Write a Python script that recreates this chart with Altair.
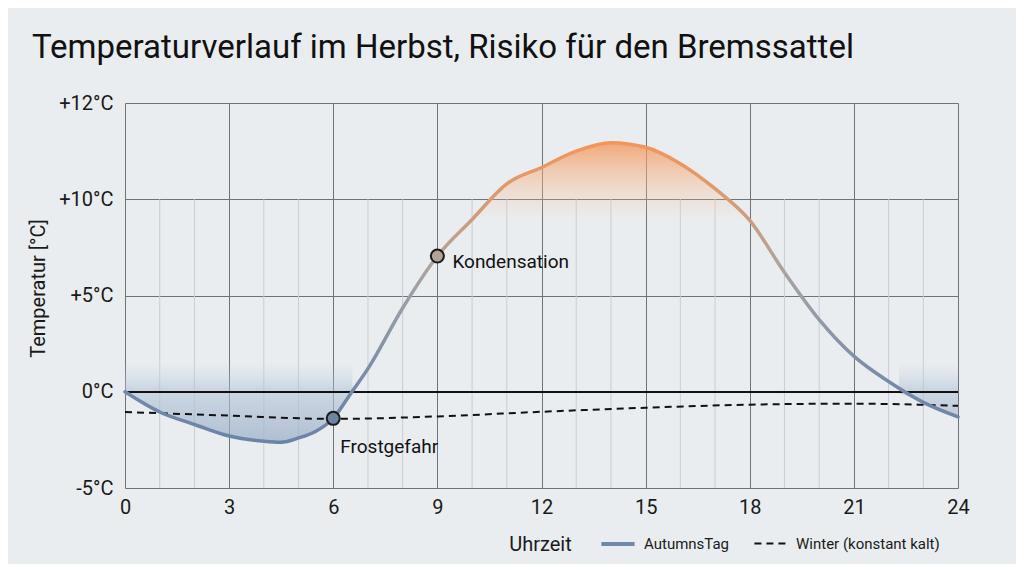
import altair as alt
import pandas as pd

# ---- data ----
hours = [0, 1, 2, 3, 4, 4.5, 5, 5.5, 6, 6.5, 7, 8, 9, 10, 11, 12, 13, 14, 15, 16, 17, 18, 19, 20, 21, 22, 23, 24]
autumn_temp = [0, -1.05, -1.7, -2.3, -2.57, -2.62, -2.4, -2.05, -1.38, -0.1, 1.2, 4.35, 7.05, 8.95, 10.8,
               11.65, 12.5, 12.94, 12.7, 11.85, 10.55, 8.9, 6.2, 3.75, 1.85, 0.53, -0.55, -1.3]

winter_hours = [0, 3, 6, 9, 12, 15, 18, 21, 24]
winter_temp = [-1.05, -1.24, -1.41, -1.28, -1.04, -0.83, -0.67, -0.62, -0.73]

marker_hours = [6, 9]
marker_temps = [-1.38, 7.05]
marker_labels = ["Frostgefahr", "Kondensation"]

x_ticks = [0, 3, 6, 9, 12, 15, 18, 21, 24]
minor_hours = [1, 2, 4, 5, 7, 8, 10, 11, 13, 14, 16, 17, 19, 20, 22, 23]
y_ticks = [-5, 0, 5, 10, 15]
y_tick_labels = ["-5°C", "0°C", "+5°C", "+10°C", "+12°C"]

frost_band_start = [0, 22.3]
frost_band_end = [6.55, 24]

series_names = ["AutumnsTag", "Winter (konstant kalt)"]

FONT = "Roboto"
BG = "#e9edf0"

autumn = pd.DataFrame({"h": hours, "t": autumn_temp})
winter = pd.DataFrame({"h": winter_hours, "t": winter_temp, "series": series_names[1]})
markers = pd.DataFrame({"h": marker_hours, "t": marker_temps, "label": marker_labels})
minor = pd.DataFrame({"h": minor_hours})
bands = pd.DataFrame({"h": frost_band_start, "h2": frost_band_end})

label_map = "{" + ",".join(f"'{v}':'{l}'" for v, l in zip(y_ticks, y_tick_labels)) + "}"

xscale = alt.Scale(domain=[0, 24], nice=False)
yscale = alt.Scale(domain=[-5, 15], nice=False)

x_enc = alt.X(
    "h:Q", scale=xscale,
    axis=alt.Axis(values=x_ticks, title="Uhrzeit", grid=True, gridColor="#6e7378", gridWidth=1,
                  domain=False, ticks=False, labelFlush=False, labelFont=FONT, labelFontSize=20,
                  labelColor="#1a1a1a", labelPadding=9, titleFont=FONT, titleFontSize=20,
                  titleFontWeight="normal", titleColor="#1a1a1a", titleX=415, titleY=62,
                  titleBaseline="alphabetic", titleAlign="center"),
)
y_enc = alt.Y(
    "t:Q", scale=yscale,
    axis=alt.Axis(values=y_ticks, labelExpr=f"{label_map}[datum.value]", title="Temperatur [°C]",
                  grid=True, gridColor="#6e7378", gridWidth=1, domain=False, ticks=False,
                  labelFont=FONT, labelFontSize=20, labelColor="#1a1a1a", labelPadding=12,
                  titleFont=FONT, titleFontSize=20, titleFontWeight="normal", titleColor="#1a1a1a",
                  titleAngle=-90, titleX=-87, titleY=185, titleAlign="center", titleBaseline="middle"),
)

base_grid = alt.Chart(autumn).mark_line(opacity=0).encode(x=x_enc, y=y_enc)

minor_rules = alt.Chart(minor).mark_rule(color="#c9ced3", strokeWidth=1).encode(
    x=alt.X("h:Q", scale=xscale), y=alt.datum(-5), y2=alt.datum(10)
)

band_fill = alt.Chart(bands).mark_rect(
    fill={"gradient": "linear", "x1": 0, "y1": 1, "x2": 0, "y2": 0,
          "stops": [{"offset": 0, "color": "rgba(170,187,210,0.55)"},
                    {"offset": 1, "color": "rgba(200,212,226,0)"}]}
).encode(x=alt.X("h:Q", scale=xscale), x2="h2:Q", y=alt.datum(0), y2=alt.datum(1.6))

cold_area = alt.Chart(autumn).transform_calculate(neg="min(datum.t, 0)").mark_area(
    interpolate="monotone",
    fill={"gradient": "linear", "x1": 0, "y1": 1, "x2": 0, "y2": 0,
          "stops": [{"offset": 0, "color": "rgba(150,170,198,0.7)"},
                    {"offset": 1, "color": "rgba(185,199,218,0.6)"}]}
).encode(x=alt.X("h:Q", scale=xscale), y=alt.Y("neg:Q", scale=yscale), y2=alt.datum(0))

warm_area = alt.Chart(autumn).transform_filter("datum.h >= 10 && datum.h <= 18").mark_area(
    interpolate="monotone",
    fill={"gradient": "linear", "x1": 0, "y1": 1, "x2": 0, "y2": 0,
          "stops": [{"offset": 0, "color": "rgba(248,195,160,0)"},
                    {"offset": 0.4, "color": "rgba(248,185,140,0.35)"},
                    {"offset": 1, "color": "rgba(244,150,90,0.8)"}]}
).encode(x=alt.X("h:Q", scale=xscale), y=alt.Y("t:Q", scale=yscale), y2=alt.datum(9))

zero_rule = alt.Chart(autumn).mark_rule(color="#111111", strokeWidth=1.6).encode(
    y=alt.datum(0), x=alt.datum(0), x2=alt.datum(24)
)

legend_kw = dict(title=None, orient="none", legendX=474, legendY=422, direction="horizontal",
                 symbolType="stroke", symbolSize=1100, labelFont=FONT, labelFontSize=15,
                 labelColor="#1a1a1a", labelOffset=7, columnPadding=20)

winter_line = alt.Chart(winter).mark_line(interpolate="monotone").encode(
    x=alt.X("h:Q", scale=xscale),
    y=alt.Y("t:Q", scale=yscale),
    color=alt.Color("series:N", scale=alt.Scale(domain=series_names, range=["#7088a8", "#111111"]),
                    legend=alt.Legend(**legend_kw)),
    strokeDash=alt.StrokeDash("series:N", scale=alt.Scale(domain=series_names, range=[[1, 0], [7, 5]]),
                              legend=alt.Legend(**legend_kw)),
    strokeWidth=alt.StrokeWidth("series:N", scale=alt.Scale(domain=series_names, range=[4, 2]),
                                legend=alt.Legend(**legend_kw)),
)

autumn_line = alt.Chart(autumn).mark_line(
    interpolate="monotone", strokeWidth=3.5, strokeCap="round",
    stroke={"gradient": "linear", "x1": 0, "y1": 1, "x2": 0, "y2": 0,
            "stops": [{"offset": 0, "color": "#6b83a5"},
                      {"offset": 0.17, "color": "#7389a8"},
                      {"offset": 0.49, "color": "#9ba0a7"},
                      {"offset": 0.62, "color": "#b4a396"},
                      {"offset": 0.8, "color": "#d69c74"},
                      {"offset": 1, "color": "#f2965a"}]}
).encode(x=alt.X("h:Q", scale=xscale), y=alt.Y("t:Q", scale=yscale))

points = alt.Chart(markers).mark_point(filled=True, size=170, stroke="#1a1a1a", strokeWidth=2, opacity=1).encode(
    x=alt.X("h:Q", scale=xscale), y=alt.Y("t:Q", scale=yscale),
    fill=alt.Fill("label:N", scale=alt.Scale(domain=marker_labels, range=["#6e84a3", "#b3a396"]), legend=None),
)

frost_text = alt.Chart(markers).transform_filter("datum.label == 'Frostgefahr'").mark_text(
    align="left", baseline="middle", dx=7, dy=29, font=FONT, fontSize=19, color="#111111"
).encode(x=alt.X("h:Q", scale=xscale), y=alt.Y("t:Q", scale=yscale), text="label:N")

kond_text = alt.Chart(markers).transform_filter("datum.label == 'Kondensation'").mark_text(
    align="left", baseline="middle", dx=15, dy=6, font=FONT, fontSize=19, color="#111111"
).encode(x=alt.X("h:Q", scale=xscale), y=alt.Y("t:Q", scale=yscale), text="label:N")

chart = alt.layer(
    base_grid, minor_rules, band_fill, cold_area, warm_area, zero_rule,
    winter_line, autumn_line, points, frost_text, kond_text
).properties(
    width=833, height=385,
    autosize=alt.AutoSizeParams(type="none"),
    padding={"left": 117, "top": 95, "right": 58, "bottom": 76},
    background=BG,
    title=alt.TitleParams(
        "Temperaturverlauf im Herbst, Risiko für den Bremssattel",
        anchor="start", frame="group", dx=-93, offset=2, baseline="alphabetic",
        font=FONT, fontSize=33, fontWeight="normal", color="#111111",
    ),
).configure_view(strokeWidth=0)

chart.save("out.html", embed_options={"renderer": "svg", "actions": False})
